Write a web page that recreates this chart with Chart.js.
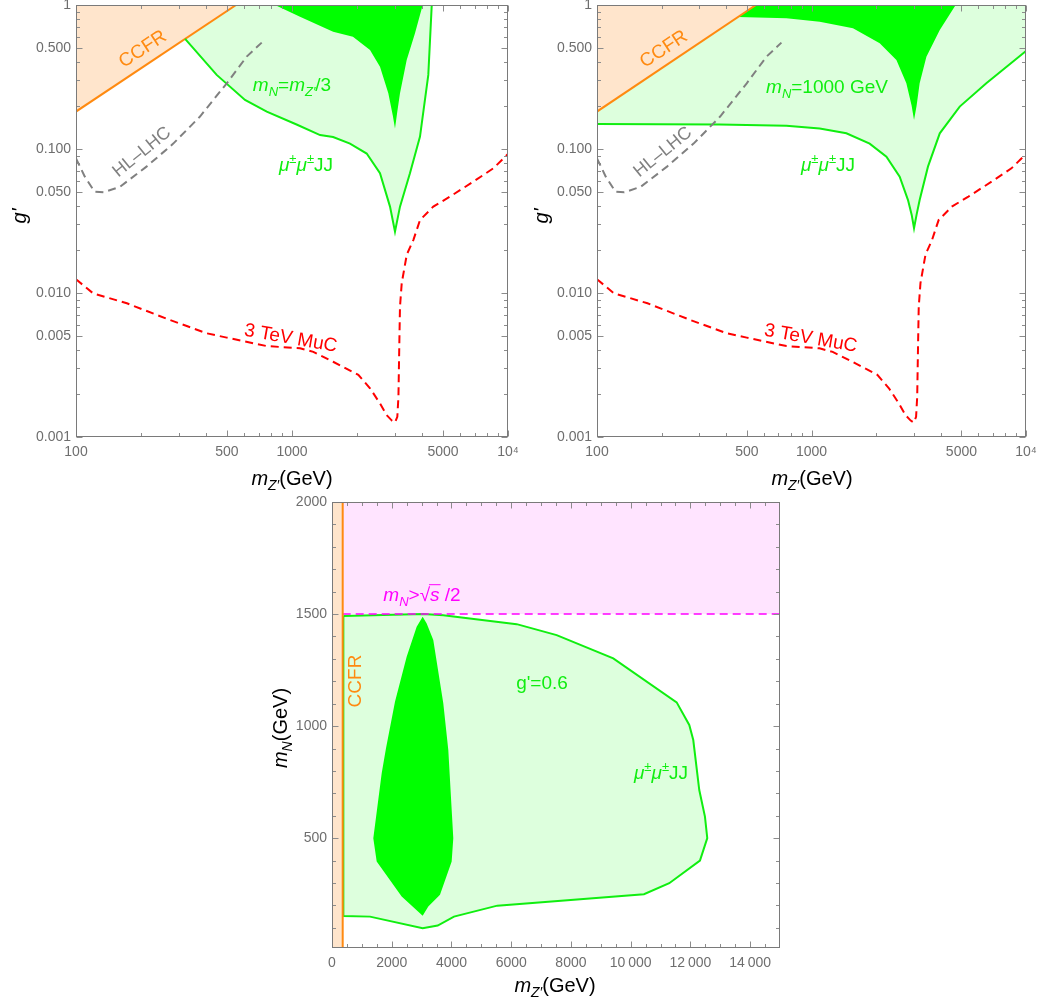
<!DOCTYPE html>
<html>
<head>
<meta charset="utf-8">
<script src="https://cdn.jsdelivr.net/npm/chart.js@4.4.0/dist/chart.umd.min.js"></script>
<style>
  body { margin: 0; background: #fff; }
  #page { position: relative; width: 1047px; height: 1005px; overflow: hidden; }
  canvas { position: absolute; }
</style>
</head>
<body>
<div id="page">
  <canvas id="leftChart" width="520" height="490" style="left:0;top:0"></canvas>
  <canvas id="rightChart" width="527" height="490" style="left:520px;top:0"></canvas>
  <canvas id="massChart" width="530" height="515" style="left:260px;top:490px"></canvas>
</div>
<script>
// ---- top panels : m_Z' (GeV) vs g' ----
const ccfrMz = [100, 551];
const ccfrG = [0.182, 1];

const lhcMz = [100, 110, 122, 134, 160, 212, 282, 375, 499, 617, 724];
const lhcG = [0.086, 0.064, 0.0505, 0.05, 0.0547, 0.0754, 0.109, 0.168, 0.286, 0.438, 0.548];

const mucMz = [100, 120, 172, 272, 403, 499, 764, 1089, 1255, 1550, 2028, 2297, 2555, 2743, 2900, 2998, 3073, 3110, 3140, 3162, 3221, 3400, 3645, 3914, 4510, 5387, 6909, 8551, 10000];
const mucG = [0.01245, 0.00995, 0.00848, 0.0065, 0.00525, 0.0049, 0.00428, 0.00413, 0.0039, 0.00333, 0.0027, 0.00218, 0.00171, 0.00142, 0.0013, 0.00126, 0.00138, 0.0019, 0.0045, 0.00803, 0.0117, 0.0185, 0.0233, 0.0321, 0.0398, 0.0467, 0.0593, 0.0734, 0.0923];

// m_N = m_Z'/3
const mmLeftMz = [320, 448, 606, 764, 1050, 1349, 1550, 1856, 2217, 2555, 2843, 2998, 3162, 3516, 3914, 4276, 4436];
const mmLeftG = [0.582, 0.327, 0.219, 0.182, 0.148, 0.125, 0.121, 0.109, 0.093, 0.0678, 0.0398, 0.0267, 0.0398, 0.0678, 0.122, 0.327, 1];
const darkLeftMz = [834, 1089, 1550, 1915, 2297, 2555, 2792, 2930, 2998, 3070, 3162, 3396, 3710, 4028];
const darkLeftG = [1, 0.83, 0.653, 0.603, 0.487, 0.373, 0.244, 0.17, 0.139, 0.18, 0.244, 0.415, 0.636, 1];

// m_N = 1000 GeV
const mmRightMz = [100, 373, 764, 1092, 1454, 1867, 2235, 2577, 2818, 2930, 3006, 3090, 3193, 3491, 3963, 4909, 6531, 10000];
const mmRightG = [0.149, 0.148, 0.145, 0.139, 0.1285, 0.109, 0.0885, 0.0643, 0.0442, 0.035, 0.0282, 0.035, 0.0442, 0.0754, 0.1285, 0.197, 0.286, 0.48];
const darkRightMz = [454, 764, 1092, 1561, 2080, 2488, 2768, 2930, 3006, 3090, 3193, 3433, 3963, 4700, 551];
const darkRightG = [0.826, 0.808, 0.766, 0.689, 0.542, 0.415, 0.286, 0.2, 0.159, 0.2, 0.286, 0.438, 0.67, 1, 1];

const logXMajor = [100, 500, 1000, 5000, 10000];
const logXLabels = ['100', '500', '1000', '5000', '10\u2074'];
const logXMinor = [200, 300, 400, 600, 700, 800, 900, 2000, 3000, 4000, 6000, 7000, 8000, 9000];
const logYMajor = [0.001, 0.005, 0.01, 0.05, 0.1, 0.5, 1];
const logYLabels = ['0.001', '0.005', '0.010', '0.050', '0.100', '0.500', '1'];
const logYMinor = [0.002, 0.003, 0.004, 0.006, 0.007, 0.008, 0.009, 0.02, 0.03, 0.04, 0.06, 0.07, 0.08, 0.09, 0.2, 0.3, 0.4, 0.6, 0.7, 0.8, 0.9];

// ---- bottom panel : m_Z' vs m_N at g' = 0.6 ----
const ccfrLimit = 358;
const kinLimit = 1500;
const bandMz = [380, 3057, 3726, 6183, 7522, 9417, 11540, 11962, 12096, 12297, 12487, 12565, 12320, 11292, 10445, 5534, 4084, 3539, 3036, 1272, 380, 380];
const bandMn = [1491, 1500, 1495, 1455, 1406, 1302, 1106, 1005, 938, 715, 596, 500, 400, 299, 250, 199, 150, 110, 98, 150, 153, 1491];
const blobMz = [3036, 2835, 2500, 2109, 1808, 1664, 1383, 1496, 2333, 3036, 3224, 3616, 4007, 4061, 3894, 3726, 3391, 3170];
const blobMn = [1488, 1443, 1309, 1109, 901, 790, 500, 396, 240, 154, 195, 248, 396, 500, 893, 1102, 1384, 1458];

const linXMajor = [0, 2000, 4000, 6000, 8000, 10000, 12000, 14000];
const linXLabels = ['0', '2000', '4000', '6000', '8000', '10\u2009000', '12\u2009000', '14\u2009000'];
const linXMinor = [500, 1000, 1500, 2500, 3000, 3500, 4500, 5000, 5500, 6500, 7000, 7500, 8500, 9000, 9500, 10500, 11000, 11500, 12500, 13000, 13500, 14500];
const linYMajor = [500, 1000, 1500, 2000];
const linYLabels = ['500', '1000', '1500', '2000'];
const linYMinor = [100, 200, 300, 400, 600, 700, 800, 900, 1100, 1200, 1300, 1400, 1600, 1700, 1800, 1900];

const ORANGE = '#ff8a10';
const PEACH = '#ffe5cc';
const GREEN = '#10ee10';
const DARKGREEN = '#00ff00';
const LIGHTGREEN = '#ddffdd';
const PINK = '#ffe4ff';
const MAGENTA = '#ff00ff';
const RED = '#ff0000';
const GREY = '#808080';
const FONT = '"Liberation Sans", Arial, sans-serif';

function pts(xs, ys) {
    return xs.map((x, i) => ({x: x, y: ys[i]}));
}

function area(xs, ys, color, order) {
    return {data: pts(xs, ys), fill: 'shape', backgroundColor: color, borderColor: 'transparent',
        borderWidth: 0, pointRadius: 0, order: order};
}

function curve(xs, ys, color, order, dash, width) {
    return {data: pts(xs, ys), fill: false, borderColor: color, borderWidth: width || 2,
        borderDash: dash || [], pointRadius: 0, order: order, tension: 0};
}

// draw text made of pieces: flags i = italic, s = subscript, u = superscript, o = overline
function drawRich(ctx, parts, x, y, size, color, angle) {
    ctx.save();
    ctx.translate(x, y);
    ctx.rotate((angle || 0) * Math.PI / 180);
    ctx.fillStyle = color;
    ctx.strokeStyle = color;
    ctx.textBaseline = 'alphabetic';
    const fontOf = p => (p[1].includes('i') ? 'italic ' : '') +
        Math.round(size * (p[1].includes('s') || p[1].includes('u') ? 0.7 : 1)) + 'px ' + FONT;
    let total = 0;
    const widths = parts.map(p => {
        ctx.font = fontOf(p);
        const w = ctx.measureText(p[0]).width;
        total += w;
        return w;
    });
    let cx = -total / 2;
    const base = size * 0.36;
    parts.forEach((p, i) => {
        ctx.font = fontOf(p);
        let dy = base;
        if (p[1].includes('s')) dy += size * 0.25;
        if (p[1].includes('u')) dy -= size * 0.42;
        ctx.fillText(p[0], cx, dy);
        if (p[1].includes('o')) {
            ctx.lineWidth = 1;
            ctx.beginPath();
            ctx.moveTo(cx - 1, dy - size * 0.85);
            ctx.lineTo(cx + widths[i] + 1, dy - size * 0.85);
            ctx.stroke();
        }
        cx += widths[i];
    });
    ctx.restore();
}

const textLabels = {
    id: 'textLabels',
    afterDraw(chart, args, opts) {
        (opts.items || []).forEach(it => {
            drawRich(chart.ctx, it.parts, it.x, it.y, it.size || 19, it.color, it.angle);
        });
    }
};

const frameTicks = {
    id: 'frameTicks',
    afterDatasetsDraw(chart, args, opts) {
        const {ctx, chartArea: a, scales} = chart;
        ctx.save();
        ctx.strokeStyle = '#8c8c8c';
        ctx.lineWidth = 1;
        const l = Math.round(a.left) + 0.5, r = Math.round(a.right) - 0.5;
        const t = Math.round(a.top) + 0.5, b = Math.round(a.bottom) - 0.5;
        ctx.beginPath();
        const tick = (vals, len, horiz) => {
            vals.forEach(v => {
                if (horiz) {
                    const px = Math.round(scales.x.getPixelForValue(v)) + 0.5;
                    ctx.moveTo(px, b); ctx.lineTo(px, b - len);
                    ctx.moveTo(px, t); ctx.lineTo(px, t + len);
                } else {
                    const py = Math.round(scales.y.getPixelForValue(v)) + 0.5;
                    ctx.moveTo(l, py); ctx.lineTo(l + len, py);
                    ctx.moveTo(r, py); ctx.lineTo(r - len, py);
                }
            });
        };
        tick(opts.xMajor, 6, true);
        tick(opts.xMinor, 3.5, true);
        tick(opts.yMajor, 6, false);
        tick(opts.yMinor, 3.5, false);
        ctx.stroke();
        ctx.strokeStyle = '#7a7a7a';
        ctx.strokeRect(l, t, r - l, b - t);
        ctx.restore();
    }
};

function axis(type, min, max, major, labels, side, size, pad) {
    return {
        type: type, min: min, max: max,
        grid: {display: false, drawTicks: false},
        border: {display: false},
        afterBuildTicks: scale => { scale.ticks = major.map(v => ({value: v})); },
        afterFit: scale => {
            if (side === 'x') { scale.height = size; scale.paddingLeft = 0; scale.paddingRight = 0; }
            else { scale.width = size; scale.paddingTop = 0; scale.paddingBottom = 0; }
        },
        ticks: {
            autoSkip: false, maxRotation: 0, padding: pad, color: '#6e6e6e',
            font: {family: FONT, size: 14},
            callback: function (value) {
                const i = major.findIndex(m => Math.abs(m - value) < 1e-9 * Math.max(1, m));
                return i >= 0 ? labels[i] : '';
            }
        }
    };
}

function baseOptions(scales, padding, frame, items) {
    return {
        responsive: false, animation: false, devicePixelRatio: 1, events: [],
        layout: {padding: padding},
        scales: scales,
        plugins: {legend: {display: false}, tooltip: {enabled: false}, frameTicks: frame, textLabels: {items: items}}
    };
}

const mzTitle = [['m', 'i'], ['Z\u2032', 'is'], ['(GeV)', '']];
const ppjj = [['\u03bc', 'i'], ['\u00b1', 'u'], ['\u03bc', 'i'], ['\u00b1', 'u'], ['JJ', '']];
const logFrame = {xMajor: logXMajor, xMinor: logXMinor, yMajor: logYMajor, yMinor: logYMinor};

function topScales(yWidth) {
    return {
        x: axis('logarithmic', 100, 10000, logXMajor, logXLabels, 'x', 53, 7),
        y: axis('logarithmic', 0.001, 1, logYMajor, logYLabels, 'y', yWidth, 5)
    };
}

window.addEventListener('load', () => {
    new Chart(document.getElementById('leftChart'), {
        type: 'line',
        plugins: [frameTicks, textLabels],
        data: {
            datasets: [
                area(ccfrMz.concat([100]), ccfrG.concat([1]), PEACH, 20),
                area(mmLeftMz.concat([ccfrMz[1]]), mmLeftG.concat([1]), LIGHTGREEN, 19),
                area(darkLeftMz, darkLeftG, DARKGREEN, 18),
                curve(ccfrMz, ccfrG, ORANGE, 5),
                curve(mmLeftMz, mmLeftG, GREEN, 4),
                curve(lhcMz, lhcG, GREY, 3, [8, 5]),
                curve(mucMz, mucG, RED, 2, [8, 5])
            ]
        },
        options: baseOptions(topScales(76), {left: 0, right: 12, top: 5, bottom: 0}, logFrame, [
            {parts: [['CCFR', '']], x: 142, y: 48, color: ORANGE, angle: -33.5},
            {parts: [['HL\u2013LHC', '']], x: 141, y: 151, color: GREY, angle: -39, size: 18},
            {parts: [['m', 'i'], ['N', 'is'], ['=', ''], ['m', 'i'], ['Z\u2032', 'is'], ['/3', '']], x: 292, y: 84, color: GREEN},
            {parts: ppjj, x: 306, y: 164, color: GREEN},
            {parts: [['3 TeV MuC', '']], x: 291, y: 337, color: RED, angle: 10},
            {parts: mzTitle, x: 292, y: 478, color: '#000', size: 20},
            {parts: [["g'", 'i']], x: 19, y: 216, color: '#000', angle: -90, size: 20}
        ])
    });

    new Chart(document.getElementById('rightChart'), {
        type: 'line',
        plugins: [frameTicks, textLabels],
        data: {
            datasets: [
                area(ccfrMz.concat([100]), ccfrG.concat([1]), PEACH, 20),
                area(mmRightMz.concat([10000, ccfrMz[1], ccfrMz[0]]), mmRightG.concat([1, 1, ccfrG[0]]), LIGHTGREEN, 19),
                area(darkRightMz, darkRightG, DARKGREEN, 18),
                curve(ccfrMz, ccfrG, ORANGE, 5),
                curve(mmRightMz, mmRightG, GREEN, 4),
                curve(lhcMz, lhcG, GREY, 3, [8, 5]),
                curve(mucMz, mucG, RED, 2, [8, 5])
            ]
        },
        options: baseOptions(topScales(77), {left: 0, right: 21, top: 5, bottom: 0}, logFrame, [
            {parts: [['CCFR', '']], x: 143, y: 48, color: ORANGE, angle: -33.5},
            {parts: [['HL\u2013LHC', '']], x: 142, y: 151, color: GREY, angle: -39, size: 18},
            {parts: [['m', 'i'], ['N', 'is'], ['=1000 GeV', '']], x: 307, y: 86, color: GREEN},
            {parts: ppjj, x: 308, y: 164, color: GREEN},
            {parts: [['3 TeV MuC', '']], x: 291, y: 337, color: RED, angle: 10},
            {parts: mzTitle, x: 292, y: 478, color: '#000', size: 20},
            {parts: [["g'", 'i']], x: 21, y: 216, color: '#000', angle: -90, size: 20}
        ])
    });

    new Chart(document.getElementById('massChart'), {
        type: 'line',
        plugins: [frameTicks, textLabels],
        data: {
            datasets: [
                area([0, ccfrLimit, ccfrLimit, 0], [10, 10, 2000, 2000], PEACH, 20),
                area([ccfrLimit, 15000, 15000, ccfrLimit], [kinLimit, kinLimit, 2000, 2000], PINK, 19),
                area(bandMz, bandMn, LIGHTGREEN, 18),
                area(blobMz, blobMn, DARKGREEN, 17),
                curve(bandMz, bandMn, GREEN, 5),
                curve([ccfrLimit, 15000], [kinLimit, kinLimit], MAGENTA, 4, [8, 5], 1.5),
                curve([ccfrLimit, ccfrLimit], [10, 2000], ORANGE, 3)
            ]
        },
        options: baseOptions({
            x: axis('linear', 0, 15000, linXMajor, linXLabels, 'x', 57, 7),
            y: axis('linear', 10, 2000, linYMajor, linYLabels, 'y', 72, 5)
        }, {left: 0, right: 10, top: 12, bottom: 0},
        {xMajor: linXMajor, xMinor: linXMinor, yMajor: linYMajor, yMinor: linYMinor}, [
            {parts: [['m', 'i'], ['N', 'is'], ['>', ''], ['\u221a', ''], ['s', 'io'], [' /2', '']], x: 162, y: 104, color: MAGENTA},
            {parts: [['CCFR', '']], x: 94, y: 191, color: ORANGE, angle: -90},
            {parts: [["g'=0.6", '']], x: 282, y: 192, color: GREEN},
            {parts: ppjj, x: 401, y: 282, color: GREEN},
            {parts: mzTitle, x: 295, y: 495, color: '#000', size: 20},
            {parts: [['m', 'i'], ['N', 'is'], ['(GeV)', '']], x: 20, y: 238, color: '#000', angle: -90, size: 20}
        ])
    });
});
</script>
</body>
</html>
